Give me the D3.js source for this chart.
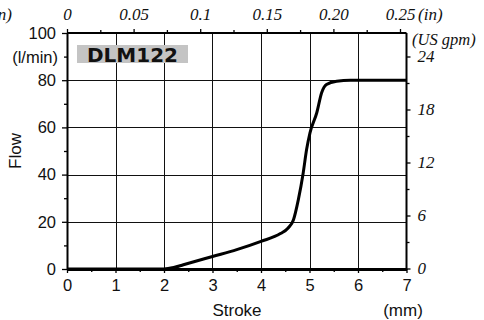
<!DOCTYPE html>
<html><head><meta charset="utf-8">
<script src="https://cdn.jsdelivr.net/npm/d3@7"></script>
<style>
html,body{margin:0;padding:0;background:#fff;}
svg{display:block;}
</style></head>
<body>
<svg id="chart" width="484" height="320"></svg>
<script>
// ---- data ----
const strokeMm = [0, 2.0, 2.2, 2.4, 3.0, 3.5, 4.0, 4.4, 4.56, 4.67, 4.77, 4.87, 4.94, 5.01, 5.15, 5.25, 5.35, 5.56, 5.84, 7];
const flowLmin = [0, 0, 0.6, 1.8, 5.3, 8.2, 11.7, 15.0, 17.4, 20.9, 29.4, 40.7, 50.6, 57.7, 66.2, 74.7, 78.2, 79.6, 80, 80];
const xTicks = [0, 1, 2, 3, 4, 5, 6, 7];
const yTicks = [0, 20, 40, 60, 80, 100];
const gpmTicks = [0, 6, 12, 18, 24];
const inTicks = [0, 0.05, 0.1, 0.15, 0.20, 0.25];
const inTickLabels = ["0", "0.05", "0.1", "0.15", "0.20", "0.25"];
const modelLabel = "DLM122";

const SANS = "Liberation Sans, Arimo, Arial, Helvetica, Roboto, sans-serif";
const SERIF = "Liberation Serif, Tinos, Times New Roman, Times, DejaVu Serif, Noto Serif, serif";

const svg = d3.select("#chart");
const L = 67, R = 406.5, T = 33, B = 269;
const x = d3.scaleLinear().domain([0, 7]).range([L, R]);
const y = d3.scaleLinear().domain([0, 100]).range([B, T]);
const yR = d3.scaleLinear().domain([0, 24]).range([268.5, 56.5]);
const xT = d3.scaleLinear().domain([0, 0.25]).range([L, 400]);

function sansText(sel, size) { sel.attr("font-family", SANS).attr("font-style", "normal").attr("font-size", size).attr("fill", "#111"); }
function serifText(sel, size) { sel.attr("font-family", SERIF).attr("font-style", "italic").attr("font-size", size).attr("fill", "#111"); }

// grid
const g = svg.append("g");
g.selectAll("line.v").data(xTicks.slice(1, -1)).join("line")
  .attr("x1", d => Math.round(x(d)) + 0.5).attr("x2", d => Math.round(x(d)) + 0.5)
  .attr("y1", T).attr("y2", B).attr("stroke", "#111").attr("stroke-width", 1);
g.selectAll("line.h").data(yTicks.slice(1, -1)).join("line")
  .attr("y1", d => Math.round(y(d)) + 0.5).attr("y2", d => Math.round(y(d)) + 0.5)
  .attr("x1", L).attr("x2", R).attr("stroke", "#111").attr("stroke-width", 1);

// label box
svg.append("rect").attr("x", 77).attr("y", 45).attr("width", 111).attr("height", 18).attr("fill", "#c4c4c4");
svg.append("text").attr("x", 132.5).attr("y", 61.5).attr("text-anchor", "middle")
  .attr("font-family", "DejaVu Sans, Verdana, sans-serif").attr("font-weight", "bold")
  .attr("font-size", 20).attr("fill", "#111").text(modelLabel);

// curve
const line = d3.line().x(d => x(d[0])).y(d => y(d[1])).curve(d3.curveMonotoneX);
svg.append("path").datum(strokeMm.map((s, i) => [s, flowLmin[i]]))
  .attr("d", line).attr("fill", "none").attr("stroke", "#000").attr("stroke-width", 3)
  .attr("stroke-linejoin", "round");

function tickLines(s) { s.select(".domain").remove(); s.selectAll("line").attr("stroke", "#000").attr("stroke-width", 1.3); }

// left axis
const la = svg.append("g").attr("transform", `translate(${L},0)`)
  .call(d3.axisLeft(y).tickValues(yTicks).tickSize(5).tickSizeOuter(0).tickPadding(6).tickFormat(d3.format("d")));
la.attr("font-family", null).attr("font-size", null);
la.select(".domain").attr("stroke", "#000").attr("stroke-width", 2);
la.selectAll(".tick line").attr("stroke", "#000").attr("stroke-width", 1.3);
la.selectAll("text").call(sansText, 16.5);
svg.append("g").attr("transform", `translate(${L},0)`)
  .call(d3.axisLeft(y).tickValues(d3.range(10, 100, 20)).tickSize(3).tickFormat(""))
  .call(tickLines);
svg.append("text").attr("x", 58).attr("y", y(90) + 6).attr("text-anchor", "end")
  .call(sansText, 16.5).text("(l/min)");
svg.append("text").attr("transform", `translate(21,${(T + B) / 2}) rotate(-90)`)
  .attr("text-anchor", "middle").call(sansText, 17).text("Flow");

// bottom axis
const ba = svg.append("g").attr("transform", `translate(0,${B})`)
  .call(d3.axisBottom(x).tickValues(xTicks).tickSize(4).tickSizeOuter(0).tickPadding(6).tickFormat(d3.format("d")));
ba.attr("font-family", null).attr("font-size", null);
ba.select(".domain").attr("stroke", "#000").attr("stroke-width", 3);
ba.selectAll(".tick line").attr("stroke", "#000").attr("stroke-width", 1.3);
ba.selectAll("text").call(sansText, 16.5);
svg.append("g").attr("transform", `translate(0,${B})`)
  .call(d3.axisBottom(x).tickValues(d3.range(0.5, 7, 1)).tickSize(3).tickFormat(""))
  .call(tickLines);
svg.append("text").attr("x", 237).attr("y", 316).attr("text-anchor", "middle")
  .call(sansText, 17).text("Stroke");
svg.append("text").attr("x", 403).attr("y", 316).attr("text-anchor", "middle")
  .call(sansText, 17).text("(mm)");

// right axis
const ra = svg.append("g").attr("transform", `translate(${R},0)`)
  .call(d3.axisRight(yR).tickValues(gpmTicks).tickSize(4).tickSizeOuter(0).tickPadding(7).tickFormat(d3.format("d")));
ra.attr("font-family", null).attr("font-size", null);
ra.select(".domain").remove();
ra.selectAll(".tick line").attr("stroke", "#000").attr("stroke-width", 1.3);
ra.selectAll("text").call(serifText, 17);
svg.append("line").attr("x1", R).attr("x2", R).attr("y1", T).attr("y2", B + 1).attr("stroke", "#000").attr("stroke-width", 2);
svg.append("g").attr("transform", `translate(${R},0)`)
  .call(d3.axisRight(yR).tickValues(d3.range(3, 24, 6)).tickSize(3).tickFormat(""))
  .call(tickLines);
svg.append("text").attr("x", 412).attr("y", 45).call(serifText, 16.5).text("(US gpm)");

// top axis
const ta = svg.append("g").attr("transform", `translate(0,${T})`)
  .call(d3.axisTop(xT).tickValues(inTicks).tickSize(4).tickSizeOuter(0).tickPadding(9)
    .tickFormat((d, i) => inTickLabels[i]));
ta.attr("font-family", null).attr("font-size", null);
ta.select(".domain").remove();
ta.selectAll(".tick line").attr("stroke", "#000").attr("stroke-width", 1.3);
ta.selectAll("text").call(serifText, 17);
svg.append("line").attr("x1", L).attr("x2", R).attr("y1", T).attr("y2", T).attr("stroke", "#000").attr("stroke-width", 2);
svg.append("g").attr("transform", `translate(0,${T})`)
  .call(d3.axisTop(xT).tickValues(d3.range(0.025, 0.26, 0.05)).tickSize(3).tickFormat(""))
  .call(tickLines);
svg.append("text").attr("x", 418).attr("y", 20).call(serifText, 17).text("(in)");
svg.append("text").attr("x", 12).attr("y", 20).attr("text-anchor", "end").call(serifText, 17).text("(in)");
</script>
</body></html>
